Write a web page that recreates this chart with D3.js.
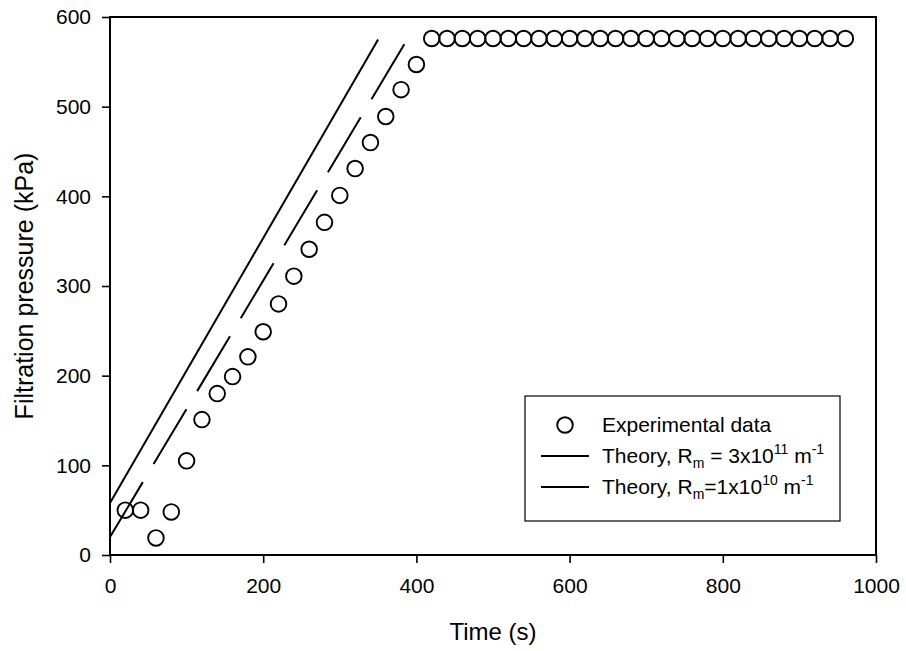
<!DOCTYPE html>
<html lang="en">
<head>
<meta charset="UTF-8" />
<title>Filtration pressure</title>
<style>
  * { margin: 0; padding: 0; }
  body { background: #fff; }
  svg { display: block; font-family: "Liberation Sans", Arial, sans-serif; }
</style>
</head>
<body>
<svg id="chart" width="906" height="651"></svg>
<script src="https://d3js.org/d3.v7.min.js"></script>
<script>
// experimental data
const timeS = [20, 40, 60, 80, 100, 120, 140, 160, 180, 200, 220, 240, 260, 280, 300, 320, 340, 360, 380, 400,
  420, 440, 460, 480, 500, 520, 540, 560, 580, 600, 620, 640, 660, 680, 700, 720, 740, 760, 780, 800,
  820, 840, 860, 880, 900, 920, 940, 960];
const pressureKPa = [50, 50, 19, 48, 105, 151, 180, 199, 221, 249, 280, 311, 341, 371, 401, 431, 460, 489, 519, 547,
  576, 576, 576, 576, 576, 576, 576, 576, 576, 576, 576, 576, 576, 576, 576, 576, 576, 576, 576, 576,
  576, 576, 576, 576, 576, 576, 576, 576];

// theory lines
const theory1Time = [0, 350];
const theory1Pressure = [58, 575];
const theory2Time = [0, 388];
const theory2Pressure = [20, 575];

const xTicks = [0, 200, 400, 600, 800, 1000];
const yTicks = [0, 100, 200, 300, 400, 500, 600];

const width = 906;
const height = 651;
const margin = { top: 17, right: 30, bottom: 96, left: 110 };
const innerWidth = width - margin.left - margin.right;
const innerHeight = height - margin.top - margin.bottom;

const svg = d3.select("#chart");

const xScale = d3.scaleLinear().domain([0, 1000]).range([0, innerWidth]);
const yScale = d3.scaleLinear().domain([0, 600]).range([innerHeight, 0]);

const group = svg.append("g").attr("transform", `translate(${margin.left},${margin.top})`);

// x axis
const xAxis = group.append("g")
  .attr("transform", `translate(0,${innerHeight})`)
  .call(d3.axisBottom(xScale).tickValues(xTicks).tickFormat(d3.format("d"))
    .tickSize(8).tickSizeOuter(0).tickPadding(15));
xAxis.select(".domain").remove();
xAxis.selectAll("line").attr("stroke", "#000").attr("stroke-width", 1.6);
xAxis.selectAll("text").attr("fill", "#000").attr("font-size", "21px").attr("font-family", "Liberation Sans, Arial, sans-serif");

// y axis
const yAxis = group.append("g")
  .call(d3.axisLeft(yScale).tickValues(yTicks).tickSize(8).tickSizeOuter(0).tickPadding(11));
yAxis.select(".domain").remove();
yAxis.selectAll("line").attr("stroke", "#000").attr("stroke-width", 1.6);
yAxis.selectAll("text").attr("fill", "#000").attr("font-size", "21px").attr("font-family", "Liberation Sans, Arial, sans-serif");

// frame
group.append("rect")
  .attr("width", innerWidth)
  .attr("height", innerHeight)
  .attr("fill", "none")
  .attr("stroke", "#000")
  .attr("stroke-width", 2);

// axis titles
svg.append("text")
  .attr("x", margin.left + innerWidth / 2)
  .attr("y", 640)
  .attr("text-anchor", "middle")
  .attr("font-size", "24px")
  .text("Time (s)");

svg.append("text")
  .attr("transform", `translate(33,${margin.top + innerHeight / 2}) rotate(-90)`)
  .attr("text-anchor", "middle")
  .attr("font-size", "25px")
  .text("Filtration pressure (kPa)");

// theory lines
const line = d3.line().x((d) => xScale(d[0])).y((d) => yScale(d[1]));

group.append("path")
  .datum(d3.zip(theory1Time, theory1Pressure))
  .attr("d", line)
  .attr("fill", "none")
  .attr("stroke", "#000")
  .attr("stroke-width", 2);

group.append("path")
  .datum(d3.zip(theory2Time, theory2Pressure))
  .attr("d", line)
  .attr("fill", "none")
  .attr("stroke", "#000")
  .attr("stroke-width", 2)
  .attr("stroke-dasharray", "64,21");

// experimental circles
group.selectAll("circle")
  .data(d3.zip(timeS, pressureKPa))
  .join("circle")
  .attr("cx", (d) => xScale(d[0]))
  .attr("cy", (d) => yScale(d[1]))
  .attr("r", 7.8)
  .attr("fill", "none")
  .attr("stroke", "#000")
  .attr("stroke-width", 1.9);

// legend
const legend = svg.append("g").attr("transform", "translate(525,396)");
legend.append("rect")
  .attr("width", 315)
  .attr("height", 125)
  .attr("fill", "#fff")
  .attr("stroke", "#000")
  .attr("stroke-width", 1.2);

legend.append("circle")
  .attr("cx", 40).attr("cy", 29).attr("r", 7.8)
  .attr("fill", "none").attr("stroke", "#000").attr("stroke-width", 1.9);
legend.append("line")
  .attr("x1", 16).attr("x2", 64).attr("y1", 60).attr("y2", 60)
  .attr("stroke", "#000").attr("stroke-width", 2);
legend.append("line")
  .attr("x1", 16).attr("x2", 64).attr("y1", 91).attr("y2", 91)
  .attr("stroke", "#000").attr("stroke-width", 2);

legend.append("text").attr("x", 77).attr("y", 36).attr("font-size", "21px").text("Experimental data");

function theoryLabel(y, eq, expo) {
  const t = legend.append("text").attr("x", 77).attr("y", y).attr("font-size", "21px");
  t.append("tspan").text("Theory, R");
  t.append("tspan").attr("font-size", "14px").attr("dy", 5).text("m");
  t.append("tspan").attr("dy", -5).text(eq);
  t.append("tspan").attr("font-size", "14px").attr("dy", -9).text(expo);
  t.append("tspan").attr("dy", 9).text(" m");
  t.append("tspan").attr("font-size", "14px").attr("dy", -9).text("-1");
}
theoryLabel(67, " = 3x10", "11");
theoryLabel(98, "=1x10", "10");
</script>
</body>
</html>
